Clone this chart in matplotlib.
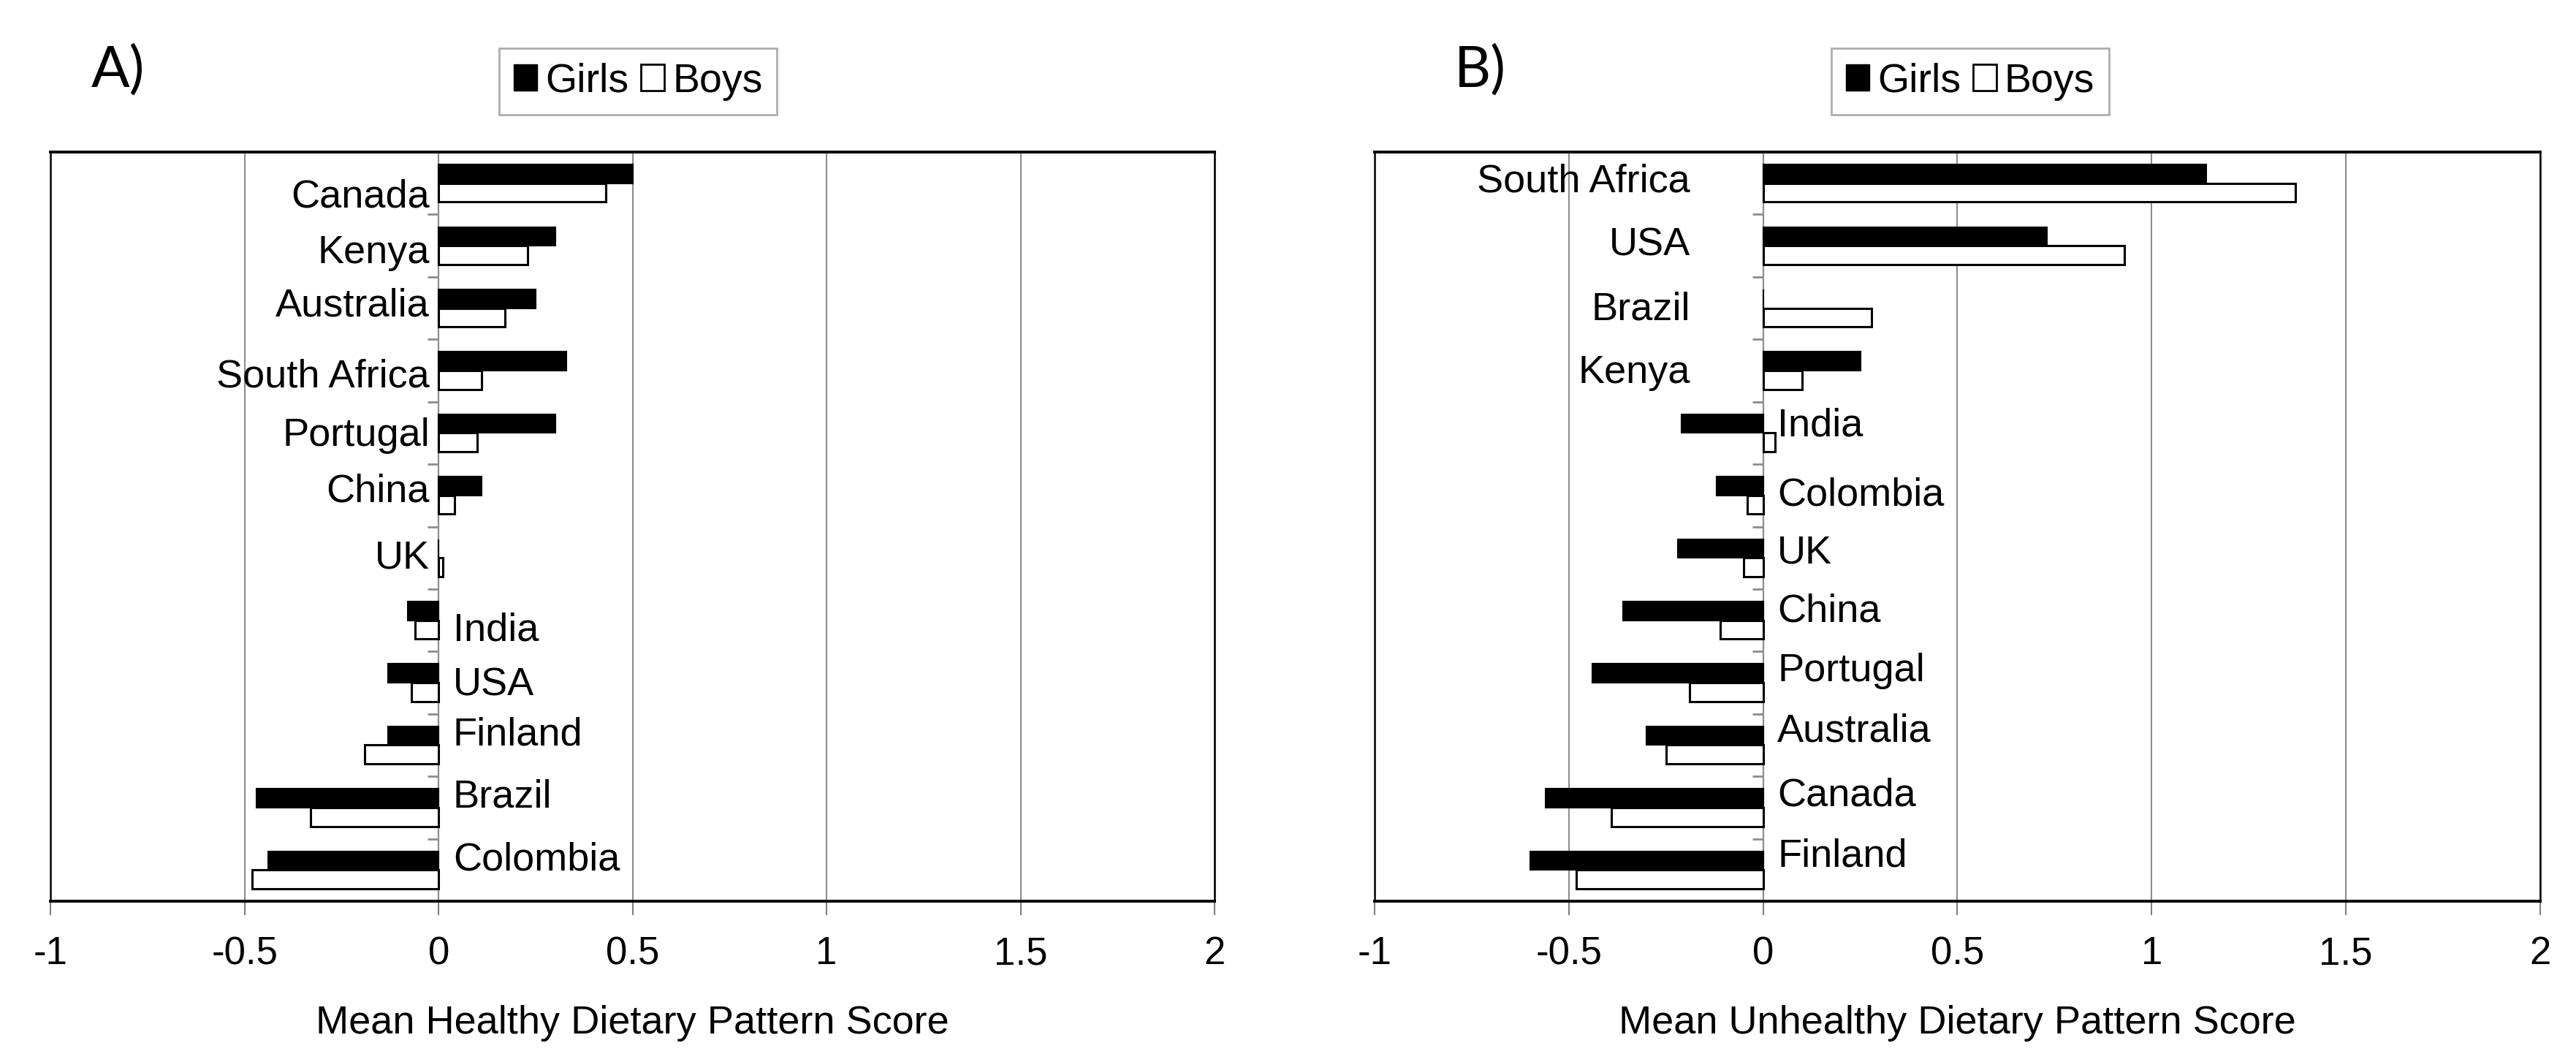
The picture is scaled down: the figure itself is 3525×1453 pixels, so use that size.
import matplotlib
matplotlib.use("Agg")
import matplotlib.pyplot as plt
from matplotlib.patches import Patch
import numpy as np

# panel A - healthy pattern
countries_a = ['Canada', 'Kenya', 'Australia', 'South Africa', 'Portugal', 'China',
               'UK', 'India', 'USA', 'Finland', 'Brazil', 'Colombia']
girls_a = [0.50, 0.30, 0.25, 0.33, 0.30, 0.11, 0.00, -0.08, -0.13, -0.13, -0.47, -0.44]
boys_a = [0.43, 0.23, 0.17, 0.11, 0.10, 0.04, 0.01, -0.06, -0.07, -0.19, -0.33, -0.48]

# panel B - unhealthy pattern
countries_b = ['South Africa', 'USA', 'Brazil', 'Kenya', 'India', 'Colombia',
               'UK', 'China', 'Portugal', 'Australia', 'Canada', 'Finland']
girls_b = [1.14, 0.73, 0.00, 0.25, -0.21, -0.12, -0.22, -0.36, -0.44, -0.30, -0.56, -0.60]
boys_b = [1.37, 0.93, 0.28, 0.10, 0.03, -0.04, -0.05, -0.11, -0.19, -0.25, -0.39, -0.48]

xticks = [-1, -0.5, 0, 0.5, 1, 1.5, 2]
xticklabels = ['-1', '-0.5', '0', '0.5', '1', '1.5', '2']

# baseline of each country label below the category centre, in pixels (Excel placement)
nudge_a = [33, 24, 11, 22, 18, 9, 14, 28, 17, 0, 0, 0]
nudge_b = [12, 13, 16, 17, 4, 14, 7, 2, -2, -5, -2, -5]

plt.rcParams['font.family'] = ['Liberation Sans', 'DejaVu Sans']

fig = plt.figure(figsize=(35.25, 14.53), dpi=100)


def panel(rect, countries, girls, boys, xlabel, letter, letter_x, legend_x,
          left_gap, nudge):
    ax = fig.add_axes(rect)
    y = np.arange(len(countries))
    h = 0.3
    ax.barh(y - h / 2, girls, height=h, color='black', edgecolor='black',
            linewidth=1.5, zorder=3)
    ax.barh(y + h / 2, boys, height=h, color='white', edgecolor='black',
            linewidth=2.2, zorder=3)
    ax.set_xlim(-1, 2)
    ax.set_ylim(len(countries) - 0.5, -0.5)
    ax.set_xticks(xticks)
    ax.set_xticklabels(xticklabels)
    ax.set_yticks([])
    ax.tick_params(axis='x', length=14, width=1.5, color='#808080',
                   labelsize=38, pad=20)
    ax.grid(axis='x', color='#8c8c8c', linewidth=1.5, zorder=0)
    for s in ['left', 'right']:
        ax.spines[s].set_linewidth(1.8)
    for s in ['top', 'bottom']:
        ax.spines[s].set_linewidth(2.8)
    ax.set_xlabel(xlabel, fontsize=39, labelpad=32)

    # category separators on the zero axis
    sec = ax.secondary_yaxis(1 / 3)
    sec.set_yticks(y[:-1] + 0.5)
    sec.set_yticklabels([])
    sec.tick_params(length=11, width=2, color='#8c8c8c')
    sec.spines['left'].set_color('#8c8c8c')
    sec.spines['left'].set_linewidth(1.5)

    for i, c in enumerate(countries):
        dy = -nudge[i] * 0.72
        if girls[i] >= 0:
            ax.annotate(c, (0, i), xytext=(-left_gap, dy),
                        textcoords='offset points', ha='right', va='baseline',
                        fontsize=39, zorder=4)
        else:
            ax.annotate(c, (0, i), xytext=(14, dy),
                        textcoords='offset points', ha='left', va='baseline',
                        fontsize=39, zorder=4)

    handles = [Patch(facecolor='black', edgecolor='black'),
               Patch(facecolor='white', edgecolor='black', linewidth=2)]
    leg = ax.legend(handles, ['Girls', 'Boys'], loc='center',
                    bbox_to_anchor=(legend_x, 0.923), bbox_transform=fig.transFigure,
                    ncol=2, fontsize=40, frameon=True, fancybox=False,
                    handlelength=0.58, handleheight=0.62, handletextpad=0.2,
                    columnspacing=0.3, borderpad=0.35, borderaxespad=0)
    leg.get_frame().set_edgecolor('#999999')
    leg.get_frame().set_linewidth(2)

    fig.text(letter_x, 0.958, letter, fontsize=56, family=['Lato', 'DejaVu Sans'],
             ha='left', va='top')
    return ax


panel([0.0197, 0.1514, 0.4518, 0.7054], countries_a, girls_a, boys_a,
      'Mean Healthy Dietary Pattern Score', 'A)', 0.0355, 0.2477, 9, nudge_a)
panel([0.5336, 0.1514, 0.4525, 0.7054], countries_b, girls_b, boys_b,
      'Mean Unhealthy Dietary Pattern Score', 'B)', 0.5645, 0.7648, 72, nudge_b)

fig.savefig('out.png', dpi=100, facecolor='white')
